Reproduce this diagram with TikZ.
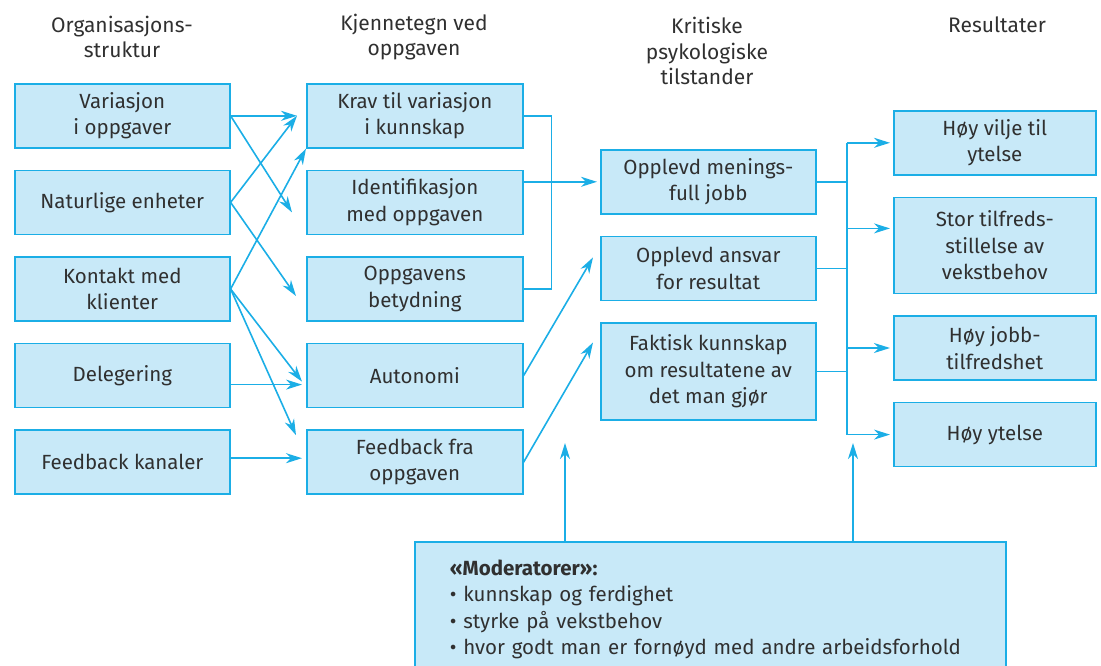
\documentclass[tikz,border=0pt]{standalone}
\usepackage{fontspec}
\setmainfont{Fira Sans}
\usepackage{xcolor}
\usetikzlibrary{positioning,calc,arrows.meta}
\definecolor{boxfill}{HTML}{C8E9F8}
\definecolor{boxline}{HTML}{1BAEE6}
\definecolor{txt}{HTML}{303030}

\begin{document}
\begin{tikzpicture}[
    x=1pt, y=-1pt,
    font=\fontsize{20.5}{26.5}\selectfont, text=txt,
    node distance=21pt,
    b/.style={draw=boxline, fill=boxfill, line width=1.6pt, align=center, minimum height=64pt, inner sep=2pt},
    org/.style={b, minimum width=215pt},
    task/.style={b, minimum width=216pt},
    state/.style={b, minimum width=215pt},
    res/.style={b, minimum width=202pt, minimum height=64pt},
    hd/.style={align=center, font=\fontsize{21}{25.5}\selectfont},
    ln/.style={boxline, line width=1.6pt},
    fl/.style={ln, -{Stealth[length=16pt, width=10pt, inset=5pt]}},
]
    \clip (0,0) rectangle (1101,666);
    % overskrifter
    \node[hd] (h1) at (122,37) {Organisasjons-\\struktur};
    \node[hd] (h2) at (414,37) {Kjennetegn ved\\oppgaven};
    \node[hd] (h3) at (707,51) {Kritiske\\psykologiske\\tilstander};
    \node[hd] (h4) at (997,25) {Resultater};

    % organisasjonsstruktur
    \node[org, anchor=north west] (o1) at (14,83) {Variasjon\\i oppgaver};
    \node[org, below=of o1] (o2) {Naturlige enheter};
    \node[org, below=of o2] (o3) {Kontakt med\\klienter};
    \node[org, below=of o3] (o4) {Delegering};
    \node[org, below=of o4] (o5) {Feedback kanaler};

    % kjennetegn ved oppgaven
    \node[task, anchor=north west] (k1) at (306,83) {Krav til variasjon\\i kunnskap};
    \node[task, below=of k1] (k2) {Identifikasjon\\med oppgaven};
    \node[task, below=of k2] (k3) {Oppgavens\\betydning};
    \node[task, below=of k3] (k4) {Autonomi};
    \node[task, below=of k4] (k5) {Feedback fra\\oppgaven};

    % kritiske tilstander
    \node[state, anchor=north west] (p1) at (600,149) {Opplevd menings-\\full jobb};
    \node[state, below=of p1] (p2) {Opplevd ansvar\\for resultat};
    \node[state, below=of p2, minimum height=97pt] (p3) {Faktisk kunnskap\\om resultatene av\\det man gjør};

    % resultater
    \node[res, anchor=north west] (r1) at (893,110) {Høy vilje til\\ytelse};
    \node[res, below=of r1, minimum height=96pt] (r2) {Stor tilfreds-\\stillelse av\\vekstbehov};
    \node[res, below=of r2] (r3) {Høy jobb-\\tilfredshet};
    \node[res, below=of r3] (r4) {Høy ytelse};

    % moderatorer
    \node[b, anchor=north west, align=left, text width=521pt, inner xsep=35pt, inner ysep=9pt,
          minimum width=591pt, minimum height=135pt] (m) at (414,541)
        {\textbf{«Moderatorer»:}\\• kunnskap og ferdighet\\• styrke på vekstbehov\\• hvor godt man er fornøyd med andre arbeidsforhold};

    % piler fra struktur til oppgave
    \draw[fl] (o1.east) -- ($(k1.west)+(-9,0)$);
    \draw[fl] (o1.east) -- ($(k2.west)+(-14,10)$);
    \draw[fl] (o2.east) -- ($(k1.west)+(-9,0)$);
    \draw[fl] (o2.east) -- ($(k3.west)+(-10,7)$);
    \draw[fl] (o3.east) -- (k1.south west);
    \draw[fl] (o3.east) -- ($(k4.west)+(-4,6)$);
    \draw[fl] (o3.east) -- ($(k5.west)+(-10,-27)$);
    \draw[fl] ($(o4.east)+(0,9)$) -- ($(k4.west)+(-4,9)$);
    \draw[fl] ($(o5.east)+(0,-4)$) -- ($(k5.west)+(-4,-4)$);

    % piler fra oppgave til tilstander
    \draw[ln] (k1.east) -- ++(28,0) |- (k3.east);
    \draw[fl] (p1.west -| k2.east) -- ($(p1.west)+(-3,0)$);
    \draw[fl] (k4.east) -- ($(p2.west)+(-7,-11)$);
    \draw[fl] (k5.east) -- ($(p3.west)+(-7,-29)$);

    % samlelinje til resultater
    \coordinate (t1) at ($(r1.west)+(-46,0)$);
    \coordinate (t4) at ($(r4.west)+(-46,0)$);
    \draw[ln] (t1) -- (t4);
    \draw[ln] (p1.east) -- (p1.east -| t1);
    \draw[ln] (p2.east) -- (p2.east -| t1);
    \draw[ln] (p3.east) -- (p3.east -| t1);
    \draw[fl] (t1) -- ($(r1.west)+(-3,0)$);
    \draw[fl] ($(r2.west)+(-46,-17)$) -- ($(r2.west)+(-3,-17)$);
    \draw[fl] (r3.west -| t1) -- ($(r3.west)+(-3,0)$);
    \draw[fl] (t4) -- ($(r4.west)+(-3,0)$);

    % moderatorpiler
    \draw[fl] ($(m.north west)+(151,0)$) -- ++(0,-98);
    \draw[fl] ($(m.north west)+(439,0)$) -- ++(0,-98);
\end{tikzpicture}
\end{document}
